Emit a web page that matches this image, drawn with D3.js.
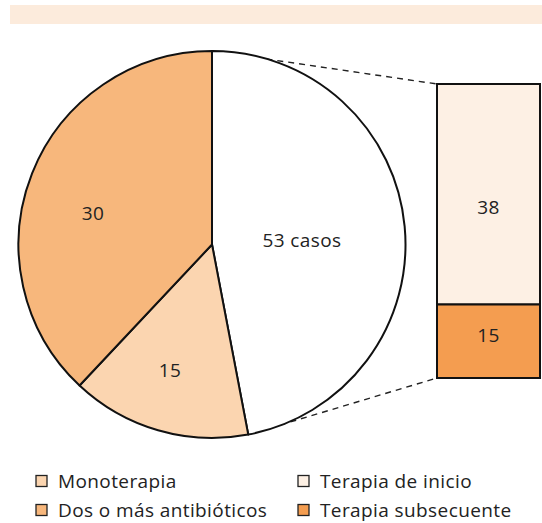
<!DOCTYPE html>
<html>
<head>
<meta charset="utf-8">
<script src="https://cdn.jsdelivr.net/npm/d3@7"></script>
<style>
  body { margin: 0; background: #fff; }
  svg { display: block; font-family: "Open Sans", "Noto Sans", sans-serif; letter-spacing: 0.4px; }
</style>
</head>
<body>
<div id="chart"></div>
<script>
(function pie_of_bar() {

  // pie: share of the circle, labels as printed
  const pieNames = ["Terapia de inicio", "Monoteria", "Dos o más antibióticos"];
  const pieShares = [47, 15, 38];
  const pieLabels = ["53 casos", "15", "30"];
  const pieColors = ["#ffffff", "#fbd5b0", "#f7b77c"];

  // bar that breaks down the first slice
  const barNames = ["Terapia de inicio", "Terapia subsecuente"];
  const barShares = [75, 25];
  const barLabels = ["38", "15"];
  const barColors = ["#fdf0e4", "#f49d50"];

  const legendItems = [
    { name: "Monoterapia", color: "#fbd5b0" },
    { name: "Terapia de inicio", color: "#fdf0e4" },
    { name: "Dos o más antibióticos", color: "#f7b77c" },
    { name: "Terapia subsecuente", color: "#f49d50" }
  ];

  const width = 542,
    height = 523;

  const cx = 212, cy = 244.5, r = 193.5;
  const fontSize = 19;

  const svg = d3.select("#chart")
    .append("svg")
    .attr("width", width)
    .attr("height", height);

  // top band
  svg.append("rect")
    .attr("x", 10).attr("y", 5)
    .attr("width", 532).attr("height", 19)
    .attr("fill", "#fcebdc");

  const pie = d3.pie().sort(null).value(d => d)(pieShares);
  const arc = d3.arc().innerRadius(0).outerRadius(r);

  // bar scale
  const barX = 437, barW = 103;
  const y = d3.scaleLinear()
    .domain([0, d3.sum(barShares)])
    .range([84, 378]);
  const stack = [];
  let acc = 0;
  barShares.forEach((v, i) => { stack.push({ y0: acc, y1: acc + v, i }); acc += v; });

  // connector lines from the first slice to the bar
  const s0 = pie[0];
  const pt = a => [cx + r * Math.sin(a), cy - r * Math.cos(a)];
  const [ax, ay] = pt(s0.startAngle);
  const [bx, by] = pt(s0.endAngle);
  svg.append("g")
    .attr("stroke", "#222")
    .attr("stroke-width", 1.4)
    .attr("stroke-dasharray", "6,5")
    .selectAll("line")
    .data([[ax, ay, y(0)], [bx, by, y(acc)]])
    .join("line")
    .attr("x1", d => d[0]).attr("y1", d => d[1])
    .attr("x2", barX).attr("y2", d => d[2]);

  const g = svg.append("g").attr("transform", `translate(${cx},${cy})`);
  g.selectAll("path")
    .data(pie)
    .join("path")
    .attr("d", arc)
    .attr("fill", (d, i) => pieColors[i])
    .attr("stroke", "#111")
    .attr("stroke-width", 2)
    .attr("stroke-linejoin", "round");

  const labelPos = [[90, -5], [-42, 125], [-119, -32]];
  g.selectAll("text")
    .data(pie)
    .join("text")
    .attr("x", (d, i) => labelPos[i][0])
    .attr("y", (d, i) => labelPos[i][1])
    .attr("text-anchor", "middle")
    .attr("dominant-baseline", "central")
    .attr("font-size", fontSize)
    .attr("fill", "#222")
    .text((d, i) => pieLabels[i]);

  const bar = svg.append("g");
  bar.selectAll("rect")
    .data(stack)
    .join("rect")
    .attr("x", barX)
    .attr("y", d => y(d.y0))
    .attr("width", barW)
    .attr("height", d => y(d.y1) - y(d.y0))
    .attr("fill", d => barColors[d.i])
    .attr("stroke", "#111")
    .attr("stroke-width", 2);

  // labels sit a little off the segment middles in the original
  const barLabelShift = [13, -6];
  bar.selectAll("text")
    .data(stack)
    .join("text")
    .attr("x", barX + barW / 2)
    .attr("y", d => (y(d.y0) + y(d.y1)) / 2 + barLabelShift[d.i])
    .attr("text-anchor", "middle")
    .attr("dominant-baseline", "central")
    .attr("font-size", fontSize)
    .attr("fill", "#222")
    .text(d => barLabels[d.i]);

  // legend
  const legend = svg.append("g");
  const item = legend.selectAll("g")
    .data(legendItems)
    .join("g")
    .attr("transform", (d, i) => `translate(${i % 2 ? 298 : 36},${i < 2 ? 481 : 510})`);
  item.append("rect")
    .attr("x", 0).attr("y", -5.5)
    .attr("width", 11).attr("height", 11)
    .attr("fill", d => d.color)
    .attr("stroke", "#222")
    .attr("stroke-width", 1.3);
  item.append("text")
    .attr("x", 22)
    .attr("dominant-baseline", "central")
    .attr("font-size", fontSize)
    .attr("fill", "#222")
    .text(d => d.name);

})();
</script>
</body>
</html>
